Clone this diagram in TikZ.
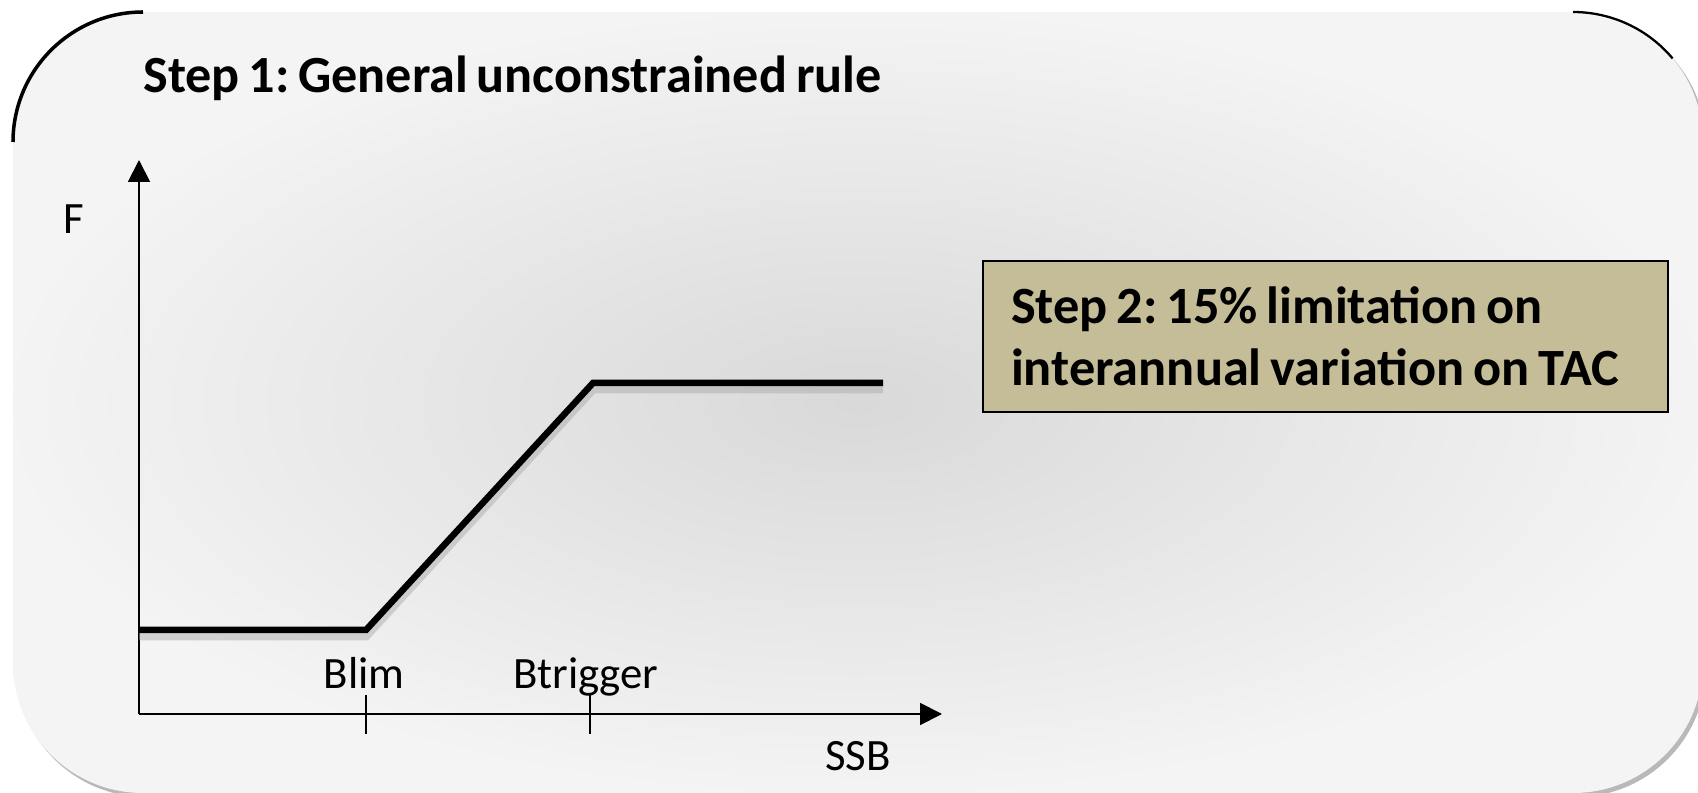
\documentclass[tikz,border=0pt]{standalone}
\usepackage{fontspec}
\setmainfont{Carlito}[WordSpace=0.75]
\usetikzlibrary{arrows.meta, positioning}
\definecolor{stepTan}{HTML}{C4BD97}
\frenchspacing
\tikzset{
    panelShape/.style={
        rounded corners=2.6cm
    },
    axisLine/.style={
        line width=1.1pt,
        -{Triangle[length=4.4mm, width=4.4mm]}
    },
    ruleLine/.style={
        line width=3.7pt,
        line join=miter
    },
    ruleShadow/.style={
        line width=5pt,
        draw=gray!70,
        opacity=0.45
    },
    tickMark/.style={
        line width=1.1pt
    },
    axisLabel/.style={
        font=\fontsize{25.5}{30}\selectfont,
        inner sep=0pt
    },
    stepBox/.style={
        draw=black,
        line width=1.2pt,
        fill=stepTan,
        minimum width=13.7cm,
        minimum height=3.02cm,
        text width=12.58cm,
        inner xsep=0.56cm,
        align=flush left,
        font=\fontsize{29.8}{35}\selectfont\bfseries
    }
}

\begin{document}
\begin{tikzpicture}[x=0.02cm, y=-0.02cm]
            \useasboundingbox (0,0) rectangle (1698,793);

            % Panel with shadow
            \fill[gray!55, panelShape] (16,15) rectangle (1706,797);
            \shade[panelShape, inner color=gray!30, outer color=gray!9] (13,12) rectangle (1703,793);
            \draw[line width=2pt] (13,142) arc[start angle=180, end angle=270, radius=130];
            \draw[line width=1.3pt] (1573,12) arc[start angle=-90, end angle=-40, radius=130];

            % Coordinates
            \coordinate (O) at (139,714);
            \coordinate (yEnd) at (139,160);
            \coordinate (xEnd) at (942,714);
            \coordinate (lowStart) at (139,630);
            \coordinate (blimKnee) at (366,630);
            \coordinate (trigKnee) at (593,383);
            \coordinate (highEnd) at (883,383);
            \coordinate (blimTop) at (366,695);
            \coordinate (blimBot) at (366,734);
            \coordinate (trigTop) at (590,695);
            \coordinate (trigBot) at (590,734);

            % Title
            \node[anchor=base west, inner sep=0pt, font=\fontsize{29.7}{34}\selectfont\bfseries] (title) at (143,93) {Step 1: General unconstrained rule};

            % Axes
            \draw[axisLine] (O) -- (yEnd);
            \draw[axisLine] (O) -- (xEnd);
            \draw[tickMark] (blimTop) -- (blimBot);
            \draw[tickMark] (trigTop) -- (trigBot);

            % Harvest control rule
            \draw[ruleShadow, transform canvas={yshift=-0.12cm}] (lowStart) -- (blimKnee) -- (trigKnee) -- (highEnd);
            \draw[ruleLine] (lowStart) -- (blimKnee) -- (trigKnee) -- (highEnd);

            % Axis labels
            \node[axisLabel, anchor=base] (fLabel) at (74,234) {F};
            \node[axisLabel, anchor=base] (blimLabel) at (364,689) {Blim};
            \node[axisLabel, anchor=base] (trigLabel) at (586,689) {Btrigger};
            \node[axisLabel, anchor=base] (ssbLabel) at (858,770) {SSB};

            % Step 2 box
            \node[stepBox] (stepTwo) at (1325.5,336.5) {Step 2: 15\% limitation on\\interannual variation on TAC};
        \end{tikzpicture}
\end{document}
